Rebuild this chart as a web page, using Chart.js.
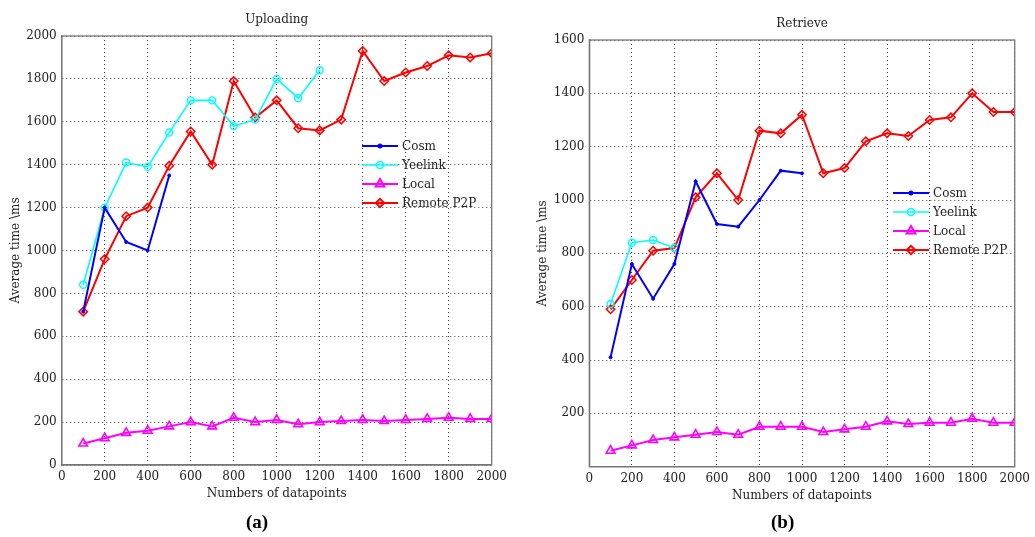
<!DOCTYPE html>
<html>
<head>
<meta charset="utf-8">
<script src="https://cdn.jsdelivr.net/npm/chart.js@4/dist/chart.umd.min.js"></script>
<style>
  body { margin: 0; background: #fff; width: 1035px; height: 537px; position: relative; overflow: hidden; }
  canvas { position: absolute; top: 0; }
  #upCanvas { left: 0; }
  #reCanvas { left: 520px; }
  .tag { position: absolute; top: 511px; font: bold 19px "Liberation Serif", serif; color: #000; }
</style>
</head>
<body>
<canvas id="upCanvas" width="520" height="537"></canvas>
<canvas id="reCanvas" width="515" height="537"></canvas>
<div class="tag" style="left:246px">(a)</div>
<div class="tag" style="left:771px">(b)</div>
<script>
// x values shared by both panels
const datapoints = [100, 200, 300, 400, 500, 600, 700, 800, 900, 1000,
    1100, 1200, 1300, 1400, 1500, 1600, 1700, 1800, 1900, 2000];
const xTicks = [0, 200, 400, 600, 800, 1000, 1200, 1400, 1600, 1800, 2000];

// (a) Uploading
const upCosm = [715, 1200, 1040, 1000, 1350];
const upYeelink = [840, 1200, 1410, 1390, 1550, 1700, 1700, 1580, 1610, 1800, 1710, 1840];
const upLocal = [100, 125, 150, 160, 180, 200, 180, 220, 200, 210,
    190, 200, 205, 210, 205, 210, 215, 220, 215, 215];
const upRemote = [715, 960, 1160, 1200, 1395, 1555, 1400, 1790, 1620, 1700,
    1570, 1560, 1610, 1930, 1790, 1830, 1860, 1910, 1900, 1920];
const upTicks = [0, 200, 400, 600, 800, 1000, 1200, 1400, 1600, 1800, 2000];

// (b) Retrieve
const reCosm = [410, 760, 630, 760, 1070, 910, 900, 1000, 1110, 1100];
const reYeelink = [610, 840, 850, 820];
const reLocal = [60, 80, 100, 110, 120, 130, 120, 150, 150, 150,
    130, 140, 150, 170, 160, 165, 165, 180, 165, 165];
const reRemote = [590, 700, 810, 820, 1010, 1100, 1000, 1260, 1250, 1320,
    1100, 1120, 1220, 1250, 1240, 1300, 1310, 1400, 1330, 1330];
const reTicks = [200, 400, 600, 800, 1000, 1200, 1400, 1600];

const seriesNames = ['Cosm', 'Yeelink', 'Local', 'Remote P2P'];

const FONT = '"DejaVu Serif", serif';
const TEXT = '#222';

function toPoints(vals) {
    return vals.map((v, i) => ({ x: datapoints[i], y: v }));
}

function makeDatasets(cosm, yeelink, local, remote) {
    return [
        { label: seriesNames[0], data: toPoints(cosm), borderColor: '#0000ff', backgroundColor: '#0000ff',
          borderWidth: 2, pointStyle: 'circle', pointRadius: 1.5, pointBorderWidth: 1 },
        { label: seriesNames[1], data: toPoints(yeelink), borderColor: '#00ffff', backgroundColor: 'rgba(0,0,0,0)',
          borderWidth: 1.6, pointStyle: 'circle', pointRadius: 3.5, pointBorderWidth: 1.4 },
        { label: seriesNames[2], data: toPoints(local), borderColor: '#ff00ff', backgroundColor: 'rgba(0,0,0,0)',
          borderWidth: 2, pointStyle: 'triangle', pointRadius: 5, pointBorderWidth: 1.6 },
        { label: seriesNames[3], data: toPoints(remote), borderColor: '#ff0000', backgroundColor: 'rgba(0,0,0,0)',
          borderWidth: 2, pointStyle: 'rectRot', pointRadius: 4.2, pointBorderWidth: 1.5 }
    ];
}

// box frame + in-plot legend, like the matlab figure
const framePlugin = {
    id: 'frame',
    afterDraw(chart, args, opts) {
        const { ctx, chartArea: a } = chart;
        ctx.save();
        ctx.strokeStyle = '#777';
        ctx.lineWidth = 1.3;
        ctx.strokeRect(a.left, a.top, a.right - a.left, a.bottom - a.top);

        ctx.font = '12px ' + FONT;
        ctx.textBaseline = 'middle';
        ctx.fillStyle = TEXT;
        chart.data.datasets.forEach((ds, i) => {
            const y = opts.y + i * 19;
            ctx.strokeStyle = ds.borderColor;
            ctx.lineWidth = ds.borderWidth;
            ctx.beginPath();
            ctx.moveTo(opts.x, y);
            ctx.lineTo(opts.x + 36, y);
            ctx.stroke();
            ctx.fillStyle = ds.backgroundColor;
            Chart.helpers.drawPoint(ctx, {
                pointStyle: ds.pointStyle, radius: ds.pointRadius,
                borderWidth: ds.pointBorderWidth, rotation: 0
            }, opts.x + 18, y);
            ctx.fillStyle = TEXT;
            ctx.fillText(ds.label, opts.x + 40, y + 1);
        });
        ctx.restore();
    }
};

function drawChart(id, title, datasets, yMax, yTicks, hideZero, lay) {
    const ctx = document.getElementById(id).getContext('2d');
    return new Chart(ctx, {
        type: 'line',
        data: { datasets },
        plugins: [framePlugin],
        options: {
            responsive: false,
            animation: false,
            layout: { padding: { left: lay.left, right: lay.right, top: 0, bottom: lay.bottom } },
            elements: { line: { tension: 0 } },
            plugins: {
                legend: { display: false },
                tooltip: { enabled: false },
                title: {
                    display: true, text: title, fullSize: false, color: TEXT,
                    font: { family: FONT, size: 12, weight: 'normal' },
                    padding: { top: lay.titleTop, bottom: 8.8 }
                },
                frame: { x: lay.legX, y: lay.legY }
            },
            scales: {
                x: {
                    type: 'linear', min: 0, max: 2000,
                    afterBuildTicks: axis => { axis.ticks = xTicks.map(v => ({ value: v })); },
                    afterFit: axis => { axis.height = 44; },
                    grid: { color: 'rgba(0,0,0,0.75)', drawTicks: false, lineWidth: 1 },
                    border: { color: '#777', width: 1.3, dash: [1, 3] },
                    ticks: {
                        color: TEXT, padding: 5, maxRotation: 0, font: { family: FONT, size: 12 },
                        callback: v => String(v)
                    },
                    title: {
                        display: true, text: 'Numbers of datapoints', color: TEXT,
                        font: { family: FONT, size: 12 }, padding: { top: 2, bottom: 8 }
                    }
                },
                y: {
                    min: 0, max: yMax,
                    afterBuildTicks: axis => { axis.ticks = yTicks.map(v => ({ value: v })); },
                    afterFit: axis => { axis.width = lay.yWidth; },
                    grid: { color: 'rgba(0,0,0,0.75)', drawTicks: false, lineWidth: 1 },
                    border: { color: '#777', width: 1.3, dash: [1, 3] },
                    ticks: {
                        color: TEXT, padding: 5, font: { family: FONT, size: 12 },
                        callback: v => (hideZero && v === 0) ? '' : String(v)
                    },
                    title: {
                        display: true, text: 'Average time \\ms', color: TEXT,
                        font: { family: FONT, size: 12 }, padding: { top: 4, bottom: 4 }
                    }
                }
            }
        }
    });
}

drawChart('upCanvas', 'Uploading', makeDatasets(upCosm, upYeelink, upLocal, upRemote), 2000, upTicks, false,
    { left: 5, right: 28.3, bottom: 28, yWidth: 56.7, titleTop: 12.8, legX: 362, legY: 146 });
drawChart('reCanvas', 'Retrieve', makeDatasets(reCosm, reYeelink, reLocal, reRemote), 1600, reTicks, true,
    { left: 11.8, right: 17.7, bottom: 26.3, yWidth: 57.5, titleTop: 16.8, legX: 373, legY: 193 });
</script>
</body>
</html>
